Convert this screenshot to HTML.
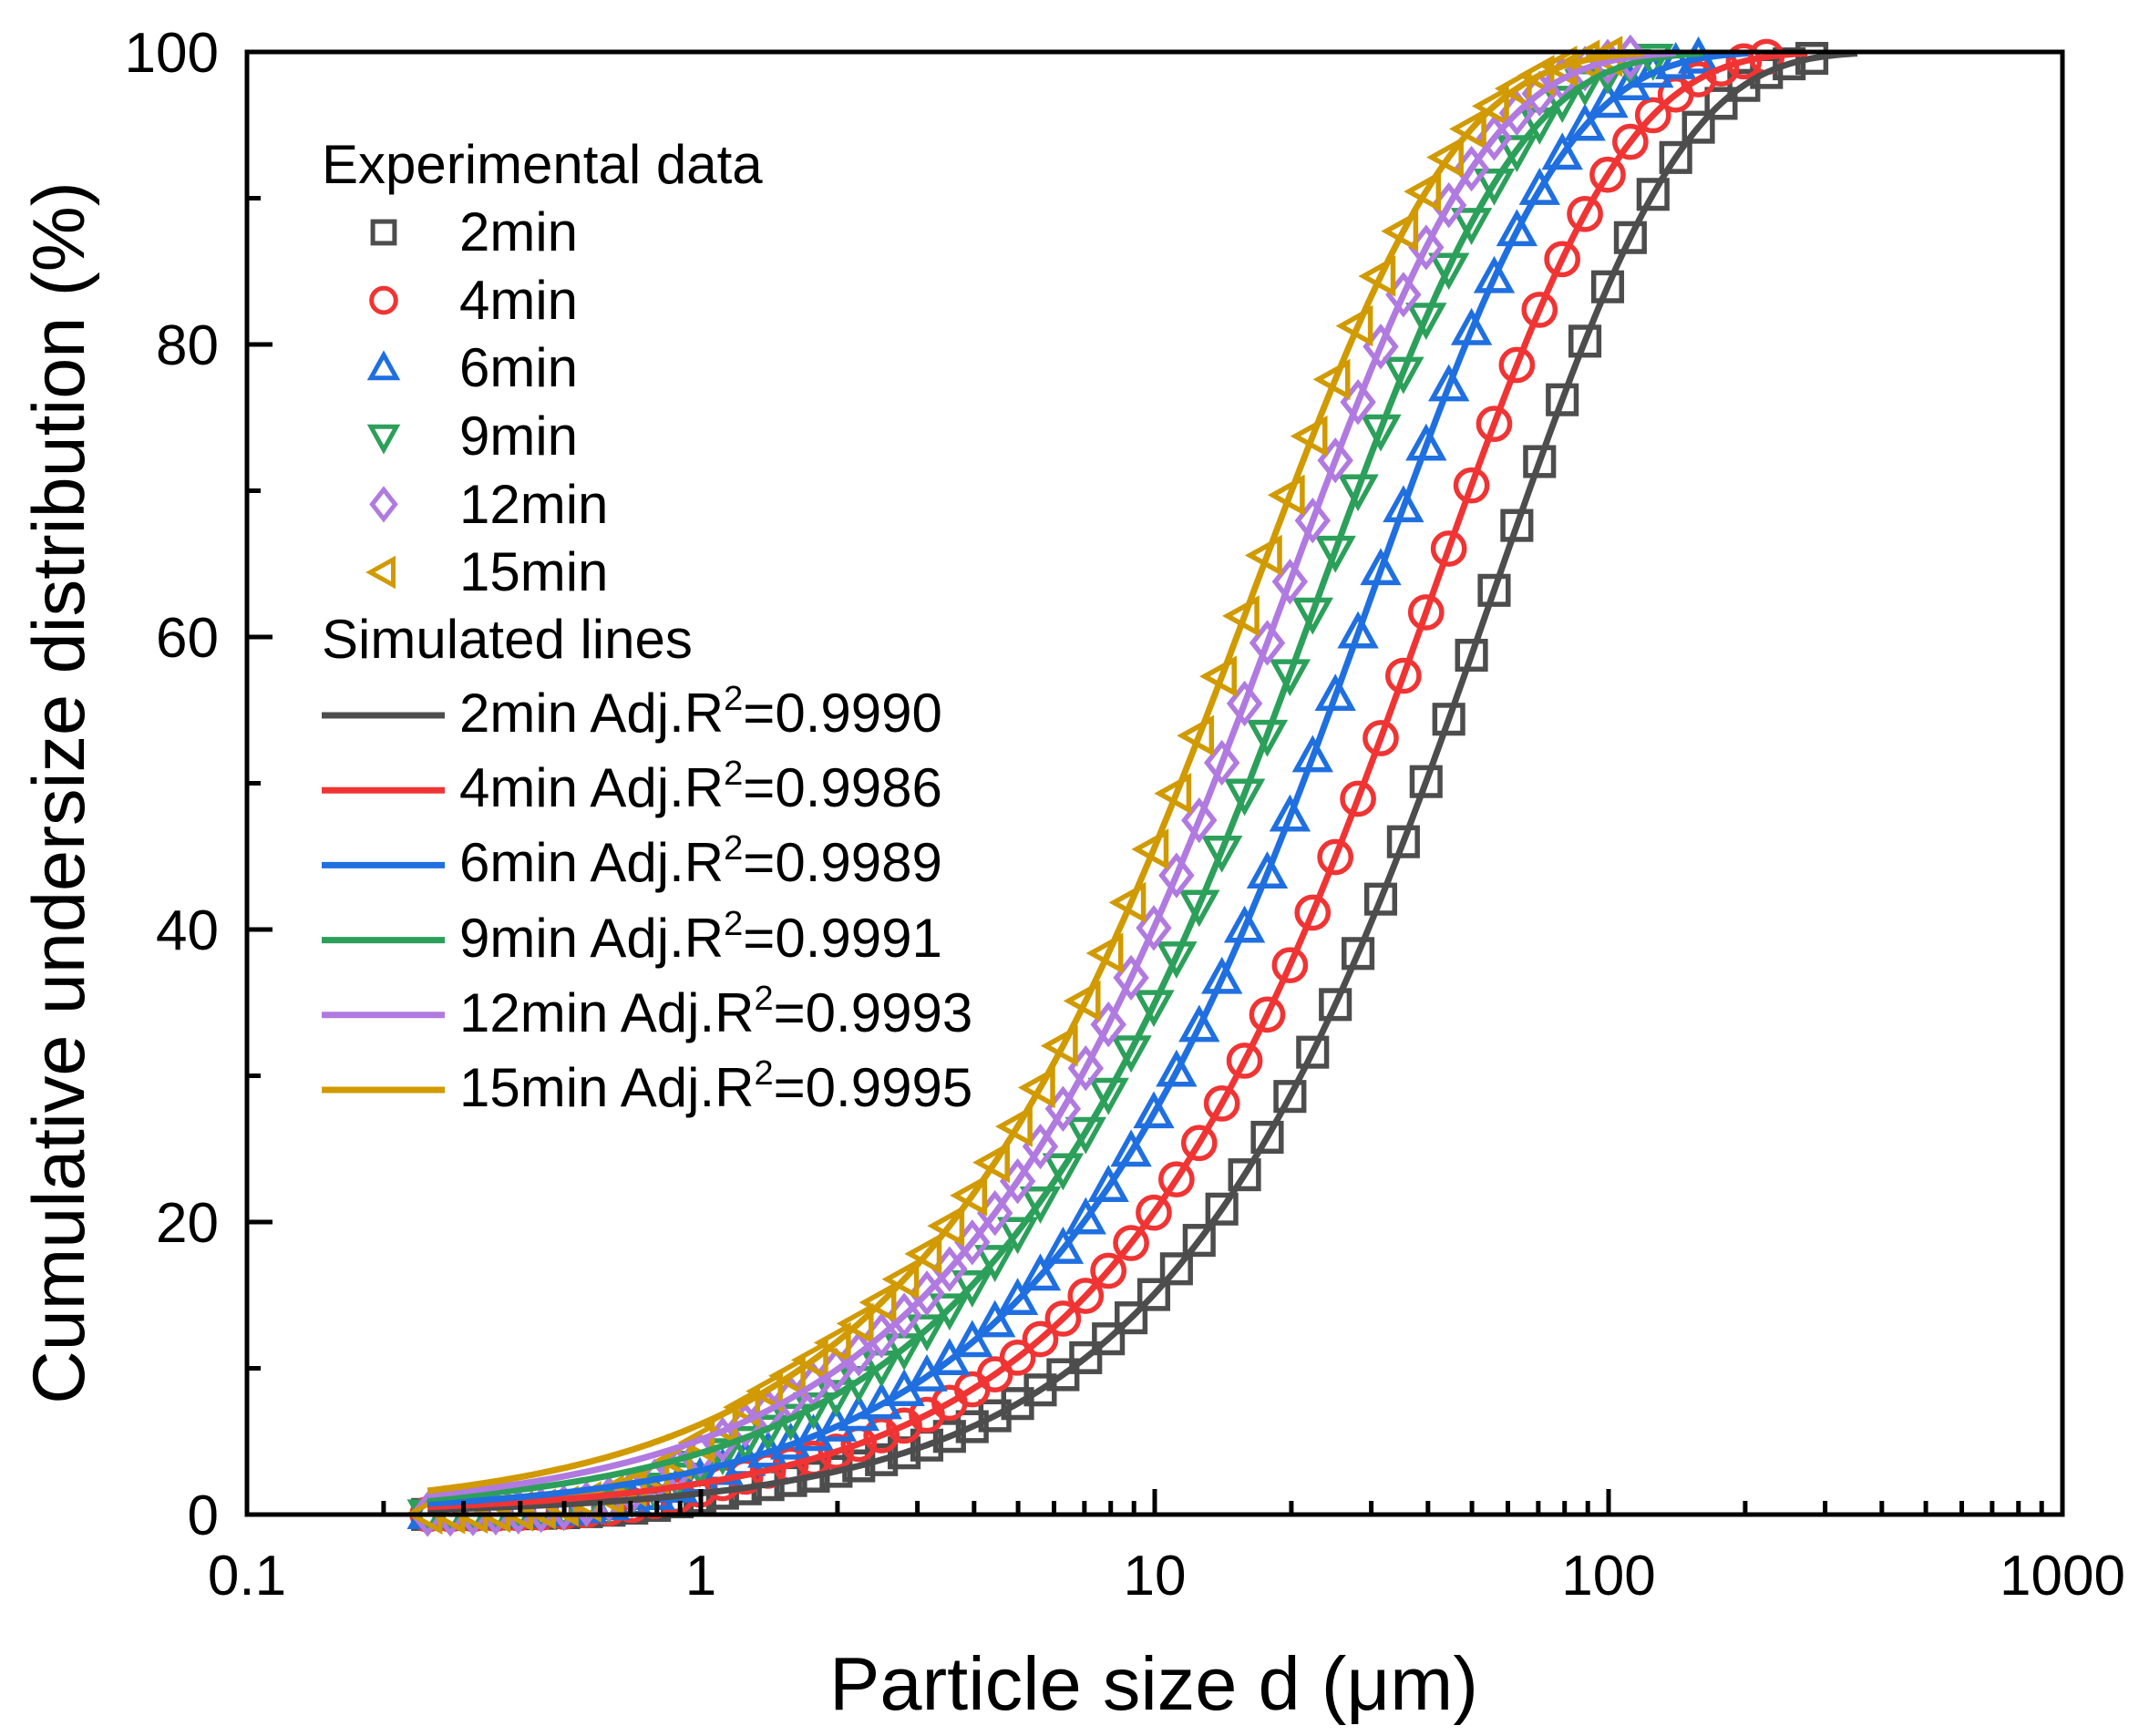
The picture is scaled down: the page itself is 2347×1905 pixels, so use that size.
<!DOCTYPE html>
<html><head><meta charset="utf-8"><style>
html,body{margin:0;padding:0;background:#fff;}
svg{display:block;font-family:"Liberation Sans",Arial,sans-serif;}
</style></head><body>
<svg id="s" width="2347" height="1905" viewBox="0 0 2347 1905" xmlns="http://www.w3.org/2000/svg">
<rect width="2347" height="1905" fill="#fff"/>
<g id="plot"></g>
<g id="axes" stroke="#000" stroke-width="5" fill="none"></g>
<g font-size="62" fill="#000">
<text x="240" y="79" text-anchor="end">100</text>
<text x="240" y="400" text-anchor="end">80</text>
<text x="240" y="721" text-anchor="end">60</text>
<text x="240" y="1042" text-anchor="end">40</text>
<text x="240" y="1363" text-anchor="end">20</text>
<text x="240" y="1684" text-anchor="end">0</text>
<text x="271" y="1750" text-anchor="middle">0.1</text>
<text x="769" y="1750" text-anchor="middle">1</text>
<text x="1267" y="1750" text-anchor="middle">10</text>
<text x="1765" y="1750" text-anchor="middle">100</text>
<text x="2263" y="1750" text-anchor="middle">1000</text>
</g>
<text x="1266" y="1876" font-size="83" text-anchor="middle">Particle size d (μm)</text>
<text transform="translate(92,870) rotate(-90)" font-size="81" text-anchor="middle">Cumulative undersize distribution (%)</text>
<g font-size="60" fill="#000">
<text x="353" y="201">Experimental data</text>
<text x="504" y="275">2min</text>
<text x="504" y="350">4min</text>
<text x="504" y="424">6min</text>
<text x="504" y="499">9min</text>
<text x="504" y="574">12min</text>
<text x="504" y="648">15min</text>
<text x="353" y="722">Simulated lines</text>
<text x="504" y="803">2min Adj.R<tspan dy="-24" font-size="38">2</tspan><tspan dy="24">=0.9990</tspan></text>
<text x="504" y="885">4min Adj.R<tspan dy="-24" font-size="38">2</tspan><tspan dy="24">=0.9986</tspan></text>
<text x="504" y="967">6min Adj.R<tspan dy="-24" font-size="38">2</tspan><tspan dy="24">=0.9989</tspan></text>
<text x="504" y="1050">9min Adj.R<tspan dy="-24" font-size="38">2</tspan><tspan dy="24">=0.9991</tspan></text>
<text x="504" y="1132">12min Adj.R<tspan dy="-24" font-size="38">2</tspan><tspan dy="24">=0.9993</tspan></text>
<text x="504" y="1214">15min Adj.R<tspan dy="-24" font-size="38">2</tspan><tspan dy="24">=0.9995</tspan></text>
</g>
<g id="leg"></g>
</svg>
<script>
(function(){
var NS="http://www.w3.org/2000/svg";
var L=271,R=2263,T=57,B=1662;
function X(d){return L+(Math.log10(d)+1)*498;}
function Y(p){return B-p*(B-T)/100;}
function el(tag,attrs,parent){var e=document.createElementNS(NS,tag);for(var k in attrs)e.setAttribute(k,attrs[k]);parent.appendChild(e);return e;}
var series=[
 {c:"#4d4d4d",d50:39.5,n:1.05,m:"sq"},
 {c:"#f03434",d50:28.9,n:1.03,m:"ci"},
 {c:"#1f6fe0",d50:21.2,n:1.02,m:"tu"},
 {c:"#2ca05a",d50:16.1,n:1.0,m:"td"},
 {c:"#b07ae0",d50:13.5,n:0.99,m:"di"},
 {c:"#d09a00",d50:11.4,n:0.98,m:"tl"}
];
function F(s,d){var d0=s.d50/Math.pow(Math.log(2),1/s.n);return 100*(1-Math.exp(-Math.pow(d/d0,s.n)));}
function marker(type,x,y,r,col,g,sw){
 var a={fill:"none",stroke:col,"stroke-width":sw};
 if(type=="sq"){a.x=x-r*0.85;a.y=y-r*0.85;a.width=r*1.7;a.height=r*1.7;el("rect",a,g);}
 else if(type=="ci"){a.cx=x;a.cy=y;a.r=r*0.95;el("circle",a,g);}
 else{var p;
  if(type=="tu")p=[[x,y-r*1.05],[x+r,y+r*0.75],[x-r,y+r*0.75]];
  else if(type=="td")p=[[x,y+r*1.05],[x+r,y-r*0.75],[x-r,y-r*0.75]];
  else if(type=="di")p=[[x,y-r*1.15],[x+r*0.9,y],[x,y+r*1.15],[x-r*0.9,y]];
  else p=[[x-r*1.05,y],[x+r*0.75,y-r],[x+r*0.75,y+r]];
  a.points=p.map(function(q){return q[0].toFixed(1)+","+q[1].toFixed(1);}).join(" ");
  el("polygon",a,g);}
}
var plot=document.getElementById("plot");
var mg=el("g",{},plot), lg=el("g",{},plot);
series.forEach(function(s,i){
 for(var k=0;k<90;k++){
  var d=0.25*Math.pow(10,k*0.05);
  var v=F(s,d)*(1-Math.exp(-Math.pow(d/0.85,3)));
  if(d>1 && v>99.75) break;
  marker(s.m,X(d),Y(Math.min(v,100)),18,s.c,mg,5.5);
 }
 var pts=[];
 for(var t=Math.log10(0.25);t<3;t+=0.01){var d2=Math.pow(10,t);var v2=F(s,d2);pts.push(X(d2).toFixed(1)+","+Y(Math.min(v2,100)).toFixed(1));if(v2>99.9)break;}
 el("polyline",{points:pts.join(" "),fill:"none",stroke:s.c,"stroke-width":7,"stroke-linejoin":"round"},lg);
});
var ax=document.getElementById("axes");
el("rect",{x:L,y:T,width:R-L,height:B-T},ax);
for(var dec=-1;dec<3;dec++){
 for(var m=1;m<10;m++){
  var d=m*Math.pow(10,dec), x=X(d), len=(m==1)?28:15;
  el("line",{x1:x,y1:B,x2:x,y2:B-len},ax);
 }
}
for(var p=0;p<=100;p+=10){
 var len=(p%20==0)?28:15;
 el("line",{x1:L,y1:Y(p),x2:L+len,y2:Y(p)},ax);
}
var leg=document.getElementById("leg");
series.forEach(function(s,i){
 marker(s.m,421,255+i*74.6,14,s.c,leg,5);
 var y=785+i*82.2;
 el("line",{x1:353,y1:y,x2:488,y2:y,stroke:s.c,"stroke-width":7},leg);
});
})();
</script>
</body></html>
